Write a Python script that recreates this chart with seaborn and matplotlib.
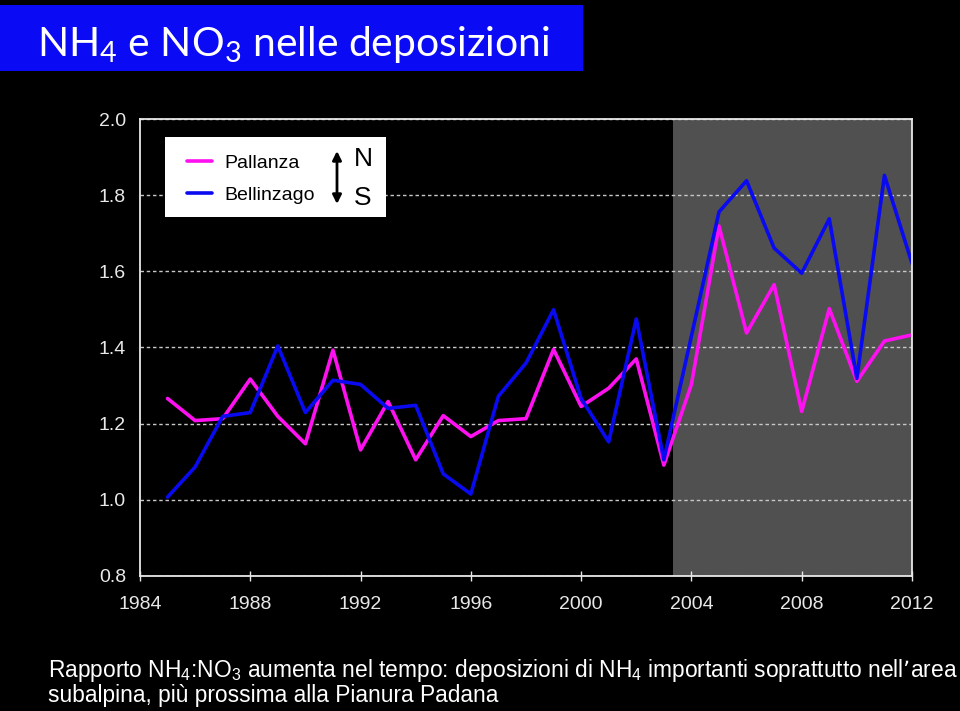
import pandas as pd
import matplotlib.pyplot as plt
import seaborn as sns
from matplotlib.patches import Rectangle

# Rapporto NH4:NO3 nelle deposizioni, 1985-2012
anni = list(range(1985, 2013))
pallanza = [1.266, 1.208, 1.213, 1.317, 1.219, 1.147, 1.393, 1.131, 1.258, 1.105,
            1.221, 1.166, 1.208, 1.213, 1.395, 1.245, 1.293, 1.370, 1.091, 1.303,
            1.719, 1.438, 1.565, 1.232, 1.502, 1.311, 1.417, 1.433]
bellinzago = [1.007, 1.086, 1.219, 1.229, 1.404, 1.229, 1.314, 1.303, 1.240, 1.248,
              1.068, 1.015, 1.272, 1.359, 1.499, 1.266, 1.152, 1.475, 1.105, 1.430,
              1.756, 1.838, 1.661, 1.595, 1.738, 1.319, 1.852, 1.621]
x_ticks = [1984, 1988, 1992, 1996, 2000, 2004, 2008, 2012]
y_ticks = [0.8, 1.0, 1.2, 1.4, 1.6, 1.8, 2.0]
periodo_recente = (2003.35, 2012)

df = pd.DataFrame({
    'anno': anni * 2,
    'rapporto': pallanza + bellinzago,
    'sito': ['Pallanza'] * len(anni) + ['Bellinzago'] * len(anni),
})

sns.set_style('dark')
plt.rcParams['font.family'] = ['Liberation Sans', 'DejaVu Sans']

fig = plt.figure(figsize=(9.6, 7.11), dpi=100, facecolor='black')
ax = fig.add_axes([0.1458, 0.19, 0.8042, 0.6426])
ax.set_facecolor('black')

ax.axvspan(*periodo_recente, color='#505050', zorder=0.2, lw=0)

sns.lineplot(data=df, x='anno', y='rapporto', hue='sito',
             palette={'Pallanza': '#FF10F0', 'Bellinzago': '#0A0AF0'},
             linewidth=2.6, legend=False, ax=ax, zorder=3)

ax.set_xlim(1984, 2012)
ax.set_ylim(0.8, 2.0)
ax.set_xticks(x_ticks)
ax.set_yticks(y_ticks)
ax.set_yticklabels([f'{v:.1f}' for v in y_ticks])
ax.set_xlabel('')
ax.set_ylabel('')

ax.grid(False)
ax.yaxis.grid(True, color='#C8C8C8', linestyle=(0, (2.5, 2)), linewidth=1.0)
ax.set_axisbelow(True)
for s in ax.spines.values():
    s.set_visible(True)
    s.set_color('#E8E8E8')
    s.set_linewidth(1.3)
    s.set_zorder(4)

ax.tick_params(axis='x', direction='inout', length=7, width=1, color='#E8E8E8',
               colors='#E8E8E8', labelsize=14, pad=11, bottom=True)
ax.tick_params(axis='y', length=0, colors='#E8E8E8', labelsize=14, pad=10)

# legenda
fig.patches.append(Rectangle((0.1719, 0.6948), 0.2302, 0.1125, transform=fig.transFigure,
                             facecolor='white', edgecolor='none', zorder=5))
handles = [plt.Line2D([], [], color='#FF10F0', lw=2.6),
           plt.Line2D([], [], color='#0A0AF0', lw=2.6)]
leg = fig.legend(handles, ['Pallanza', 'Bellinzago'], loc='upper left',
                 bbox_to_anchor=(0.177, 0.808), frameon=False, fontsize=14,
                 handlelength=1.25, handletextpad=0.65, labelspacing=0.75)
leg.set_zorder(6)
for t in leg.get_texts():
    t.set_color('black')
fig.add_artist(plt.Annotation('', xy=(337 / 960, 1 - 151 / 711), xytext=(337 / 960, 1 - 204 / 711),
                              xycoords='figure fraction', textcoords='figure fraction',
                              arrowprops=dict(arrowstyle='<|-|>', color='black', lw=2,
                                              mutation_scale=13, shrinkA=0, shrinkB=0),
                              zorder=7))
fig.text(354 / 960, 1 - 159 / 711, 'N', color='black', fontsize=19, va='center', zorder=7)
fig.text(354 / 960, 1 - 198 / 711, 'S', color='black', fontsize=19, va='center', zorder=7)

# titolo
fig.patches.append(Rectangle((0, 1 - 71 / 711), 583 / 960, 66 / 711, transform=fig.transFigure,
                             facecolor='#0A0AF5', edgecolor='none', zorder=1))
fig.text(37 / 960, 1 - 56 / 711, r'$\mathregular{NH_4}$ e $\mathregular{NO_3}$ nelle deposizioni',
         color='white', fontsize=29.4, family='Lato', va='baseline', zorder=2)

# nota
fig.text(48 / 960, 1 - 677 / 711,
         'Rapporto $\\mathregular{NH_4}$:$\\mathregular{NO_3}$ aumenta nel tempo: deposizioni di '
         '$\\mathregular{NH_4}$ importanti soprattutto nell\u2019area',
         color='white', fontsize=16.4, va='baseline')
fig.text(48 / 960, 1 - 702 / 711, 'subalpina, pi\u00f9 prossima alla Pianura Padana',
         color='white', fontsize=16.4, va='baseline')

fig.savefig('out.png', dpi=100, facecolor='black')
